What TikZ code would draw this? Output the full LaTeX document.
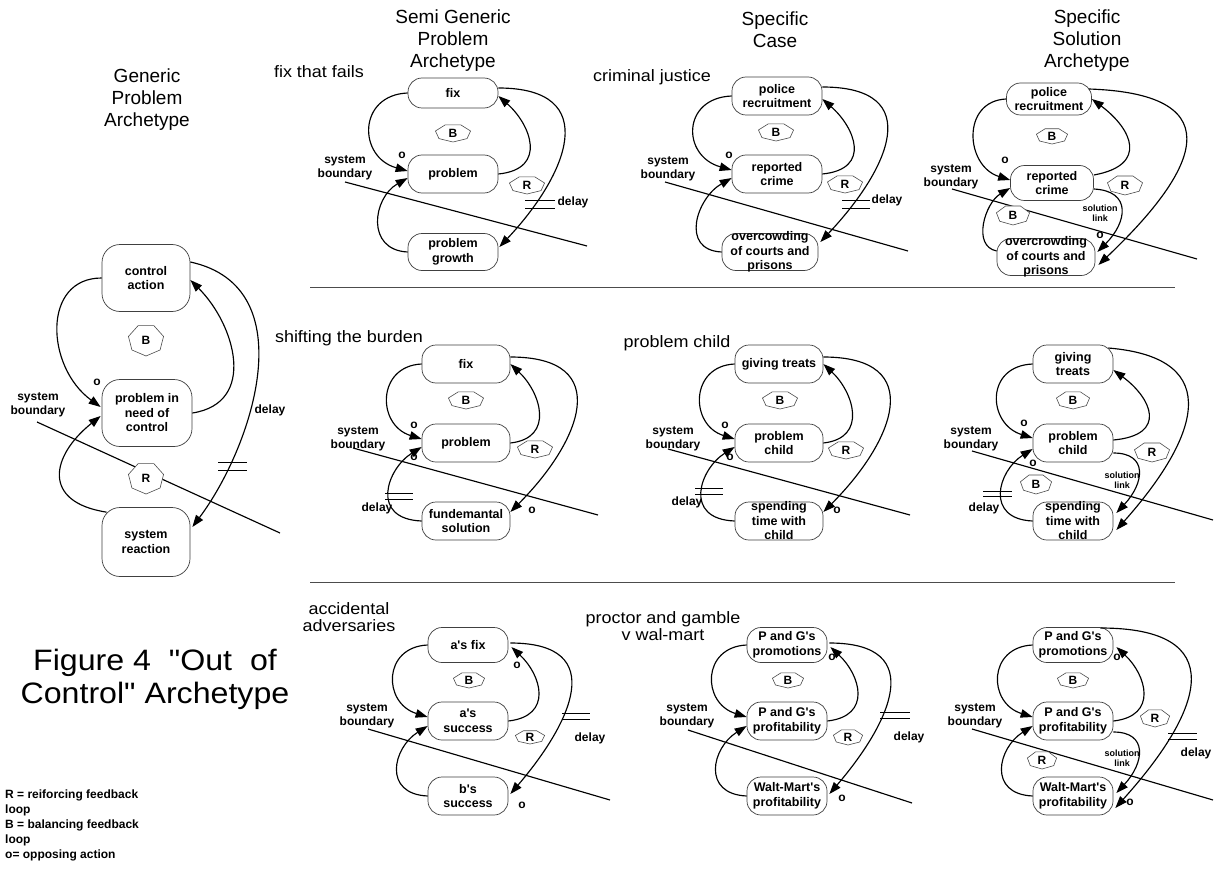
\documentclass[tikz,border=0pt]{standalone}
\usepackage{fontspec}
\newfontfamily\gen{Liberation Sans}
\newfontfamily\genw[FakeStretch=1.09]{Liberation Sans}
\usetikzlibrary{arrows.meta,calc}

\newcommand{\hdfont}{\gen\fontsize{19}{22}\selectfont}
\newcommand{\casefont}{\genw\fontsize{16.5}{17.5}\selectfont}
\newcommand{\boxfont}{\gen\fontsize{12.5}{14.5}\selectfont\bfseries}
\newcommand{\labfont}{\gen\fontsize{12}{13.5}\selectfont\bfseries}
\newcommand{\tinyfont}{\gen\fontsize{9}{10}\selectfont\bfseries}

\tikzset{
  box/.style={draw=black!75, line width=0.7pt, fill=white, rounded corners=14pt, inner sep=0pt},
  gbox/.style={rounded corners=18pt},
  boxtxt/.style={font=\boxfont, align=center, inner sep=0pt},
  arr/.style={line width=1.15pt, -{Triangle[length=12pt,width=8.5pt]}},
  bound/.style={line width=1.15pt},
  sepline/.style={line width=1pt, draw=black!70},
  heptline/.style={draw=black!70, line width=0.6pt, fill=white},
  hepttxt/.style={font=\labfont, inner sep=0pt},
  lbl/.style={font=\labfont, align=center, inner sep=0pt},
  tinylbl/.style={font=\tinyfont, align=center, inner sep=0pt},
  hdr/.style={font=\hdfont, align=center, inner sep=0pt},
  casename/.style={font=\casefont, align=center, inner sep=0pt},
  markline/.style={line width=1pt},
}

% state box: [style] name, x, y, width, height, text
\newcommand{\statebox}[7][]{%
  \node[box,#1, minimum width=#5pt, minimum height=#6pt] (#2) at (#3,#4) {};
  \node[boxtxt] (#2t) at (#2.center) {#7};}
% loop polarity heptagon: name, x, y, x radius, y radius, letter
\newcommand{\loopsign}[6]{%
  \draw[heptline] ($(#2,#3)+(90:#4 and #5)$)
    \foreach \k in {1,...,6}{ -- ($(#2,#3)+({90+\k*360/7}:#4 and #5)$) } -- cycle;
  \node[hepttxt] (#1) at (#2,#3) {#6};}
% delay mark: name, x, y, half width, half gap
\newcommand{\delaymark}[5]{%
  \coordinate (#1) at (#2,#3);
  \draw[markline] ($(#1)+(-#4,-#5)$) -- ($(#1)+(#4,-#5)$);
  \draw[markline] ($(#1)+(-#4,#5)$) -- ($(#1)+(#4,#5)$);}

\begin{document}
\begin{tikzpicture}[x=1pt,y=-1pt]
\fill[white] (0,0) rectangle (1214,869);
\useasboundingbox (0,0) rectangle (1214,869);

% ---------- separators ----------
\coordinate (sepA1) at (310,287); \coordinate (sepA2) at (1175,287);
\coordinate (sepB1) at (310,582); \coordinate (sepB2) at (1175,582);
\draw[sepline] (sepA1) -- (sepA2);
\draw[sepline] (sepB1) -- (sepB2);

% ---------- system boundaries ----------
\coordinate (gb1) at (37,422);   \coordinate (gb2) at (280,533);
\coordinate (s1b1) at (345,182); \coordinate (s1b2) at (587,246);
\coordinate (c1b1) at (665,182); \coordinate (c1b2) at (908,251);
\coordinate (p1b1) at (952,189); \coordinate (p1b2) at (1197,259);
\coordinate (s2b1) at (353,448); \coordinate (s2b2) at (598,515);
\coordinate (c2b1) at (668,449); \coordinate (c2b2) at (910,515);
\coordinate (p2b1) at (972,451); \coordinate (p2b2) at (1213,520);
\coordinate (s3b1) at (368,729); \coordinate (s3b2) at (610,800);
\coordinate (c3b1) at (688,730); \coordinate (c3b2) at (912,803);
\coordinate (p3b1) at (972,729); \coordinate (p3b2) at (1213,800);
\foreach \b in {g,s1,c1,p1,s2,c2,p2,s3,c3,p3}{\draw[bound] (\b b1) -- (\b b2);}

% ---------- headers ----------
\node[hdr] (hG) at (147,100) {Generic\\Problem\\Archetype};
\node[hdr] (hS) at (453,41) {Semi Generic\\Problem\\Archetype};
\node[hdr] (hC) at (775,30) {Specific\\Case};
\node[hdr] (hP) at (1087,41) {Specific\\Solution\\Archetype};

\node[casename] (nS1) at (319,72) {fix that fails};
\node[casename] (nC1) at (652,77) {criminal justice};
\node[casename] (nS2) at (349,338) {shifting the burden};
\node[casename] (nC2) at (677,343) {problem child};
\node[casename] (nS3) at (349,617) {accidental\\adversaries};
\node[casename] (nC3) at (663,626) {proctor and gamble\\v wal-mart};

\node[font=\genw\fontsize{29.5}{33}\selectfont, align=center, inner sep=0pt] (title) at (155,679)
  {Figure 4~~"Out~~of\\Control" Archetype};
\node[font=\gen\fontsize{12}{15}\selectfont\bfseries, align=left, anchor=north west, inner sep=0pt]
  (legend) at (5,790) {R = reiforcing feedback\\loop\\B = balancing feedback\\loop\\o= opposing action};

% ================= generic archetype =================
\loopsign{gB}{146}{340}{18}{16}{B}
\loopsign{gR}{146}{478}{18}{16}{R}
\statebox[gbox]{gA}{146}{278}{88}{67}{control\\action}
\statebox[gbox]{gP}{147}{413}{90}{67}{problem in\\need of\\control}
\statebox[gbox]{gS}{146}{542}{88}{69}{system\\reaction}
\draw[arr] (gA.west) .. controls +(-60,0) and +(-55,-40) .. ($(gP.west)+(-1,-6)$);
\draw[arr] (gP.east) .. controls +(65,-10) and +(45,45) .. ($(gA.east)+(0,2)$);
\draw[arr] ($(gA.east)+(0,-16)$) .. controls +(115,25) and +(60,-80) .. ($(gS.east)+(2,-15)$);
\draw[arr] ($(gS.north west)+(5,5)$) .. controls +(-65,-10) and +(-50,40) .. ($(gP.west)+(-1,3)$);
\node[lbl] (gsys) at (38,405) {system\\boundary};
\node[lbl] (go) at (97,382) {o};
\node[lbl] (gdelay) at (270,410) {delay};
\delaymark{gdm}{232.5}{466}{14.5}{4}

% ================= fix that fails =================
\loopsign{s1B}{453}{133}{18}{9}{B}
\loopsign{s1R}{527}{185}{18}{9}{R}
\statebox{s1T}{453}{93}{90}{30}{fix}
\statebox{s1M}{453}{174}{90}{38}{problem}
\statebox{s1Bt}{453}{252}{90}{37}{problem\\growth}
\draw[arr] (s1T.west) .. controls +(-50,2) and +(-50,-14) .. ($(s1M.west)+(0,-3)$);
\draw[arr] (s1M.east) .. controls +(50,-5) and +(32,28) .. ($(s1T.east)+(0,3)$);
\draw[arr] ($(s1T.east)+(0,-5)$) .. controls +(105,0) and +(68,-72) .. ($(s1Bt.east)+(1,-5)$);
\draw[arr] (s1Bt.west) .. controls +(-42,-2) and +(-35,20) .. ($(s1M.west)+(0,4)$);
\node[lbl] (s1sys) at (345,168) {system\\boundary};
\node[lbl] (s1o) at (402,155) {o};
\node[lbl] (s1delay) at (573,202) {delay};
\delaymark{s1dm}{540}{204}{15}{4}

% ================= criminal justice =================
\loopsign{c1B}{776}{132}{18}{9}{B}
\loopsign{c1R}{845}{184}{18}{9}{R}
\statebox{c1T}{777}{96}{90}{38}{police\\recruitment}
\statebox{c1M}{777}{174}{90}{38}{reported\\crime}
\statebox{c1Bt}{770}{252}{96}{37}{overcowding\\of courts and\\prisons}
\draw[arr] (c1T.west) .. controls +(-50,2) and +(-50,-14) .. ($(c1M.west)+(0,-4)$);
\draw[arr] (c1M.east) .. controls +(50,-5) and +(32,28) .. ($(c1T.east)+(0,3)$);
\draw[arr] ($(c1T.east)+(0,-9)$) .. controls +(105,0) and +(68,-72) .. ($(c1Bt.east)+(2,-10)$);
\draw[arr] (c1Bt.west) .. controls +(-42,-2) and +(-35,20) .. ($(c1M.west)+(0,4)$);
\node[lbl] (c1sys) at (668,169) {system\\boundary};
\node[lbl] (c1o) at (729,155) {o};
\node[lbl] (c1delay) at (887,200) {delay};
\delaymark{c1dm}{856}{204}{14}{4}

% ================= criminal justice, solution =================
\loopsign{p1B}{1052}{136}{16}{8}{B}
\loopsign{p1R}{1125}{185}{18}{10}{R}
\loopsign{p1Bl}{1013}{215}{17}{10}{B}
\statebox{p1T}{1049}{99}{85}{32}{police\\recruitment}
\statebox{p1M}{1052}{183}{83}{35}{reported\\crime}
\statebox{p1Bt}{1046}{257}{98}{37}{overcrowding\\of courts and\\prisons}
\draw[arr] (p1T.west) .. controls +(-45,2) and +(-45,-14) .. ($(p1M.west)+(0,-3)$);
\draw[arr] ($(p1M.east)+(0,-8)$) .. controls +(55,-10) and +(40,30) .. (p1T.east);
\draw[arr] ($(p1T.east)+(-3,-10)$) .. controls +(150,5) and +(95,-90) .. ($(p1Bt.east)+(3,8)$);
\draw[arr] ($(p1M.east)+(0,6)$) .. controls +(38,2) and +(30,-30) .. ($(p1Bt.east)+(2,-5)$);
\draw[arr] ($(p1Bt.west)+(0,-6)$) .. controls +(-25,-5) and +(-25,15) .. ($(p1M.west)+(0,5)$);
\node[lbl] (p1sys) at (951,177) {system\\boundary};
\node[lbl] (p1o) at (1005,160) {o};
\node[lbl] (p1o2) at (1100,235) {o};
\node[tinylbl] (p1sol) at (1100,213) {solution\\link};

% ================= shifting the burden =================
\loopsign{s2B}{466}{400}{18}{9}{B}
\loopsign{s2R}{535}{449}{18}{9}{R}
\statebox{s2T}{466}{364}{88}{38}{fix}
\statebox{s2M}{466}{443}{88}{38}{problem}
\statebox{s2Bt}{466}{521}{88}{38}{fundemantal\\solution}
\draw[arr] (s2T.west) .. controls +(-45,2) and +(-45,-14) .. ($(s2M.west)+(0,-4)$);
\draw[arr] (s2M.east) .. controls +(45,-5) and +(30,28) .. (s2T.east);
\draw[arr] ($(s2T.east)+(0,-7)$) .. controls +(105,0) and +(70,-70) .. ($(s2Bt.east)+(0,-9)$);
\draw[arr] (s2Bt.west) .. controls +(-52,-2) and +(-35,22) .. ($(s2M.west)+(0,4)$);
\node[lbl] (s2sys) at (358,439) {system\\boundary};
\node[lbl] (s2o1) at (414,425) {o};
\node[lbl] (s2o2) at (414,457) {o};
\node[lbl] (s2o3) at (532,510) {o};
\node[lbl] (s2delay) at (377,508) {delay};
\delaymark{s2dm}{399}{496.5}{14}{3}

% ================= problem child =================
\loopsign{c2B}{780}{400}{18}{9}{B}
\loopsign{c2R}{846}{450}{18}{9}{R}
\statebox{c2T}{779}{364}{88}{38}{giving treats}
\statebox{c2M}{779}{443}{88}{38}{problem\\child}
\statebox{c2Bt}{779}{521}{88}{38}{spending\\time with\\child}
\draw[arr] (c2T.west) .. controls +(-45,2) and +(-45,-14) .. ($(c2M.west)+(0,-4)$);
\draw[arr] (c2M.east) .. controls +(45,-5) and +(30,28) .. (c2T.east);
\draw[arr] ($(c2T.east)+(0,-7)$) .. controls +(105,0) and +(70,-70) .. ($(c2Bt.east)+(0,-9)$);
\draw[arr] (c2Bt.west) .. controls +(-52,-2) and +(-35,22) .. ($(c2M.west)+(0,4)$);
\node[lbl] (c2sys) at (673,439) {system\\boundary};
\node[lbl] (c2o1) at (725,425) {o};
\node[lbl] (c2o2) at (730,457) {o};
\node[lbl] (c2o3) at (837,510) {o};
\node[lbl] (c2delay) at (687,502) {delay};
\delaymark{c2dm}{709}{491.5}{14}{3}

% ================= problem child, solution =================
\loopsign{p2B}{1073}{400}{17}{9}{B}
\loopsign{p2R}{1152}{452}{18}{10}{R}
\loopsign{p2Bl}{1036}{484}{16}{10}{B}
\statebox{p2T}{1073}{364}{80}{38}{giving\\treats}
\statebox{p2M}{1073}{443}{80}{38}{problem\\child}
\statebox{p2Bt}{1073}{521}{80}{38}{spending\\time with\\child}
\draw[arr] (p2T.west) .. controls +(-48,2) and +(-45,-14) .. ($(p2M.west)+(0,-5)$);
\draw[arr] ($(p2M.east)+(0,-3)$) .. controls +(55,-5) and +(38,28) .. ($(p2T.east)+(0,6)$);
\draw[arr] ($(p2T.east)+(-5,-16)$) .. controls +(120,10) and +(80,-90) .. ($(p2Bt.east)+(3,9)$);
\draw[arr] ($(p2M.east)+(0,10)$) .. controls +(35,0) and +(28,-30) .. ($(p2Bt.east)+(3,-8)$);
\draw[arr] (p2Bt.west) .. controls +(-48,-2) and +(-35,22) .. ($(p2M.west)+(0,6)$);
\node[lbl] (p2sys) at (971,439) {system\\boundary};
\node[lbl] (p2o1) at (1024,423) {o};
\node[lbl] (p2o2) at (1033,463) {o};
\node[tinylbl] (p2sol) at (1122,480) {solution\\link};
\node[lbl] (p2delay) at (984,508) {delay};
\delaymark{p2dm}{997.5}{494}{14.5}{2.5}

% ================= accidental adversaries =================
\loopsign{s3B}{469}{680}{16}{8}{B}
\loopsign{s3R}{530}{737}{15}{7}{R}
\statebox{s3T}{468}{645}{80}{35}{a's fix}
\statebox{s3M}{468}{721}{80}{38}{a's\\success}
\statebox{s3Bt}{468}{796}{80}{38}{b's\\success}
\draw[arr] (s3T.west) .. controls +(-45,2) and +(-45,-14) .. ($(s3M.west)+(0,-4)$);
\draw[arr] (s3M.east) .. controls +(45,-5) and +(30,28) .. ($(s3T.east)+(3,2)$);
\draw[arr] ($(s3T.east)+(2,-2)$) .. controls +(100,0) and +(60,-70) .. ($(s3Bt.east)+(2,-2)$);
\draw[arr] (s3Bt.west) .. controls +(-45,-2) and +(-35,22) .. ($(s3M.west)+(0,5)$);
\node[lbl] (s3sys) at (367,716) {system\\boundary};
\node[lbl] (s3o1) at (517,665) {o};
\node[lbl] (s3o2) at (522,805) {o};
\node[lbl] (s3delay) at (590,738) {delay};
\delaymark{s3dm}{576}{716}{14}{3}

% ================= proctor and gamble =================
\loopsign{c3B}{788}{680}{16}{8}{B}
\loopsign{c3R}{848}{737}{15}{8}{R}
\statebox{c3T}{787}{645}{80}{35}{P and G's\\promotions}
\statebox{c3M}{787}{721}{80}{38}{P and G's\\profitability}
\statebox{c3Bt}{787}{796}{80}{38}{Walt-Mart's\\profitability}
\draw[arr] (c3T.west) .. controls +(-45,2) and +(-45,-14) .. ($(c3M.west)+(0,-4)$);
\draw[arr] (c3M.east) .. controls +(45,-5) and +(30,28) .. ($(c3T.east)+(3,2)$);
\draw[arr] ($(c3T.east)+(2,-2)$) .. controls +(100,0) and +(60,-70) .. ($(c3Bt.east)+(2,-2)$);
\draw[arr] (c3Bt.west) .. controls +(-45,-2) and +(-35,22) .. ($(c3M.west)+(0,5)$);
\node[lbl] (c3sys) at (687,716) {system\\boundary};
\node[lbl] (c3o1) at (832,657) {o};
\node[lbl] (c3o2) at (842,798) {o};
\node[lbl] (c3delay) at (909,737) {delay};
\delaymark{c3dm}{895}{715.5}{15}{3}

% ================= proctor and gamble, solution =================
\loopsign{p3B}{1073}{680}{16}{8}{B}
\loopsign{p3R}{1155}{718}{15}{9}{R}
\loopsign{p3Rl}{1042}{760}{15}{9}{R}
\statebox{p3T}{1073}{645}{80}{35}{P and G's\\promotions}
\statebox{p3M}{1073}{721}{80}{38}{P and G's\\profitability}
\statebox{p3Bt}{1073}{796}{80}{38}{Walt-Mart's\\profitability}
\draw[arr] (p3T.west) .. controls +(-45,2) and +(-45,-14) .. ($(p3M.west)+(0,-4)$);
\draw[arr] (p3M.east) .. controls +(45,-5) and +(30,28) .. ($(p3T.east)+(3,2)$);
\draw[arr] ($(p3T.east)+(-13,-17)$) .. controls +(130,0) and +(90,-100) .. ($(p3Bt.east)+(2,12)$);
\draw[arr] ($(p3M.east)+(0,11)$) .. controls +(35,0) and +(28,-30) .. ($(p3Bt.east)+(3,-3)$);
\draw[arr] (p3Bt.west) .. controls +(-45,-2) and +(-35,22) .. ($(p3M.west)+(0,5)$);
\node[lbl] (p3sys) at (975,716) {system\\boundary};
\node[lbl] (p3o1) at (1117,657) {o};
\node[lbl] (p3o2) at (1130,802) {o};
\node[tinylbl] (p3sol) at (1122,758) {solution\\link};
\node[lbl] (p3delay) at (1196,753) {delay};
\delaymark{p3dm}{1182.5}{736}{14.5}{3}
\end{tikzpicture}
\end{document}
